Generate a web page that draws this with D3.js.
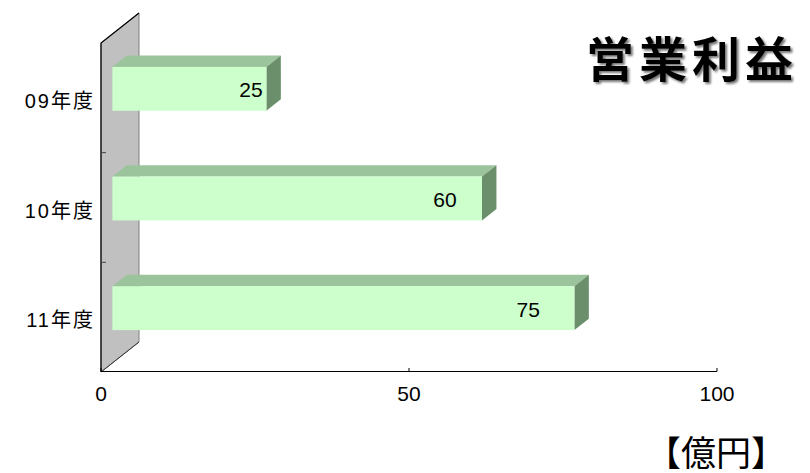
<!DOCTYPE html>
<html>
<head>
<meta charset="utf-8">
<script src="https://cdn.jsdelivr.net/npm/d3@7"></script>
<style>
  html, body { margin: 0; padding: 0; background: #fff; }
  svg { display: block; }
  text { font-family: "Liberation Sans", "Noto Sans CJK JP", sans-serif; fill: #000; }
</style>
</head>
<body>
<svg id="chart" width="810" height="473"></svg>
<script>
// Operating profit by fiscal year (unit: 100 million yen)
const categories = ["09年度", "10年度", "11年度"];
const values = [25, 60, 75];
const xTicks = [0, 50, 100];
const titleText = "営業利益";
const unitText = "【億円】";

const W = 810, H = 473;
const svg = d3.select("#chart");

// soft shadow for the title
const defs = svg.append("defs");
defs.append("filter")
  .attr("id", "titleShadow")
  .attr("x", "-10%").attr("y", "-20%").attr("width", "130%").attr("height", "150%")
  .append("feDropShadow")
  .attr("dx", 2).attr("dy", 2).attr("stdDeviation", 1)
  .attr("flood-color", "#555").attr("flood-opacity", 0.8);

// front plane of the plot area
const plot = { left: 101, right: 717, top: 43, bottom: 372 };
// oblique depth of the side wall
const depth = { dx: 38, dy: -30 };
// bars occupy the middle slice of the depth
const barFront = 0.30, barBack = 0.68;

const x = d3.scaleLinear().domain([0, 100]).range([plot.left, plot.right]);
const y = d3.scaleBand().domain(categories).range([plot.top, plot.bottom]).padding(0);
const barH = y.bandwidth() * 0.4;

// side wall (parallelogram on the left)
const wall = [
  [plot.left, plot.top],
  [plot.left + depth.dx, plot.top + depth.dy],
  [plot.left + depth.dx, plot.bottom + depth.dy],
  [plot.left, plot.bottom]
];
svg.append("path")
  .attr("d", d3.line()(wall) + "Z")
  .attr("fill", "#c0c0c0")
  .attr("stroke", "#808080")
  .attr("stroke-width", 1);
svg.append("path")
  .attr("d", d3.line()([wall[3], wall[0], wall[1]]))
  .attr("fill", "none")
  .attr("stroke", "#000")
  .attr("stroke-width", 1.2);
svg.append("path")
  .attr("d", d3.line()([wall[3], wall[2]]))
  .attr("fill", "none")
  .attr("stroke", "#333")
  .attr("stroke-width", 1);

// category separators on the wall edge
const sepY = categories.slice(1).map(c => y(c));
svg.selectAll("line.sep").data(sepY).join("line")
  .attr("class", "sep")
  .attr("x1", plot.left).attr("x2", plot.left + 5)
  .attr("y1", d => d).attr("y2", d => d)
  .attr("stroke", "#444").attr("stroke-width", 1);

// value axis along the floor front edge
svg.append("line")
  .attr("x1", x(0)).attr("x2", x(100))
  .attr("y1", plot.bottom - 0.5).attr("y2", plot.bottom - 0.5)
  .attr("stroke", "#000").attr("stroke-width", 1);
svg.selectAll("line.xtick").data(xTicks).join("line")
  .attr("class", "xtick")
  .attr("x1", d => x(d)).attr("x2", d => x(d))
  .attr("y1", plot.bottom - 0.5).attr("y2", plot.bottom - 4)
  .attr("stroke", "#000").attr("stroke-width", 1);
svg.selectAll("text.xlab").data(xTicks).join("text")
  .attr("class", "xlab")
  .attr("x", d => x(d))
  .attr("y", plot.bottom + 21)
  .attr("text-anchor", "middle")
  .attr("dominant-baseline", "central")
  .attr("font-size", 21)
  .text(d => d);

// category labels
svg.selectAll("text.ylab").data(categories).join("text")
  .attr("class", "ylab")
  .attr("x", plot.left - 6)
  .attr("y", d => y(d) + y.bandwidth() / 2 + 3)
  .attr("text-anchor", "end")
  .attr("dominant-baseline", "central")
  .attr("font-size", 20)
  .attr("letter-spacing", 2)
  .text(d => d);

// 3D bars
const fx = barFront * depth.dx, fy = barFront * depth.dy;
const bdx = (barBack - barFront) * depth.dx, bdy = (barBack - barFront) * depth.dy;

const bars = svg.selectAll("g.bar").data(categories.map((c, i) => ({ c, v: values[i] })))
  .join("g").attr("class", "bar");

bars.each(function (d) {
  const g = d3.select(this);
  const x0 = x(0) + fx, x1 = x(d.v) + fx;
  const yc = y(d.c) + y.bandwidth() / 2 + fy;
  const y0 = yc - barH / 2, y1 = yc + barH / 2;
  // top face
  g.append("path")
    .attr("d", d3.line()([[x0, y0], [x1, y0], [x1 + bdx, y0 + bdy], [x0 + bdx, y0 + bdy]]) + "Z")
    .attr("fill", "#9cc49c");
  // end face
  g.append("path")
    .attr("d", d3.line()([[x1, y0], [x1 + bdx, y0 + bdy], [x1 + bdx, y1 + bdy], [x1, y1]]) + "Z")
    .attr("fill", "#6a8f6a");
  // front face
  g.append("rect")
    .attr("x", x0).attr("y", y0)
    .attr("width", x1 - x0).attr("height", y1 - y0)
    .attr("fill", "#ccffcc");
  // value label
  g.append("text")
    .attr("x", x(d.v * 0.9) + fx)
    .attr("y", yc + 1)
    .attr("text-anchor", "middle")
    .attr("dominant-baseline", "central")
    .attr("font-size", 21)
    .text(d.v);
});

// title with drop shadow
svg.append("text")
  .attr("x", 692).attr("y", 60)
  .attr("text-anchor", "middle")
  .attr("dominant-baseline", "central")
  .attr("font-size", 48).attr("font-weight", "bold")
  .attr("letter-spacing", 5)
  .attr("filter", "url(#titleShadow)")
  .text(titleText);

// unit label
svg.append("text")
  .attr("x", 716).attr("y", 453)
  .attr("text-anchor", "middle")
  .attr("dominant-baseline", "central")
  .attr("font-size", 35)
  .text(unitText);
</script>
</body>
</html>
